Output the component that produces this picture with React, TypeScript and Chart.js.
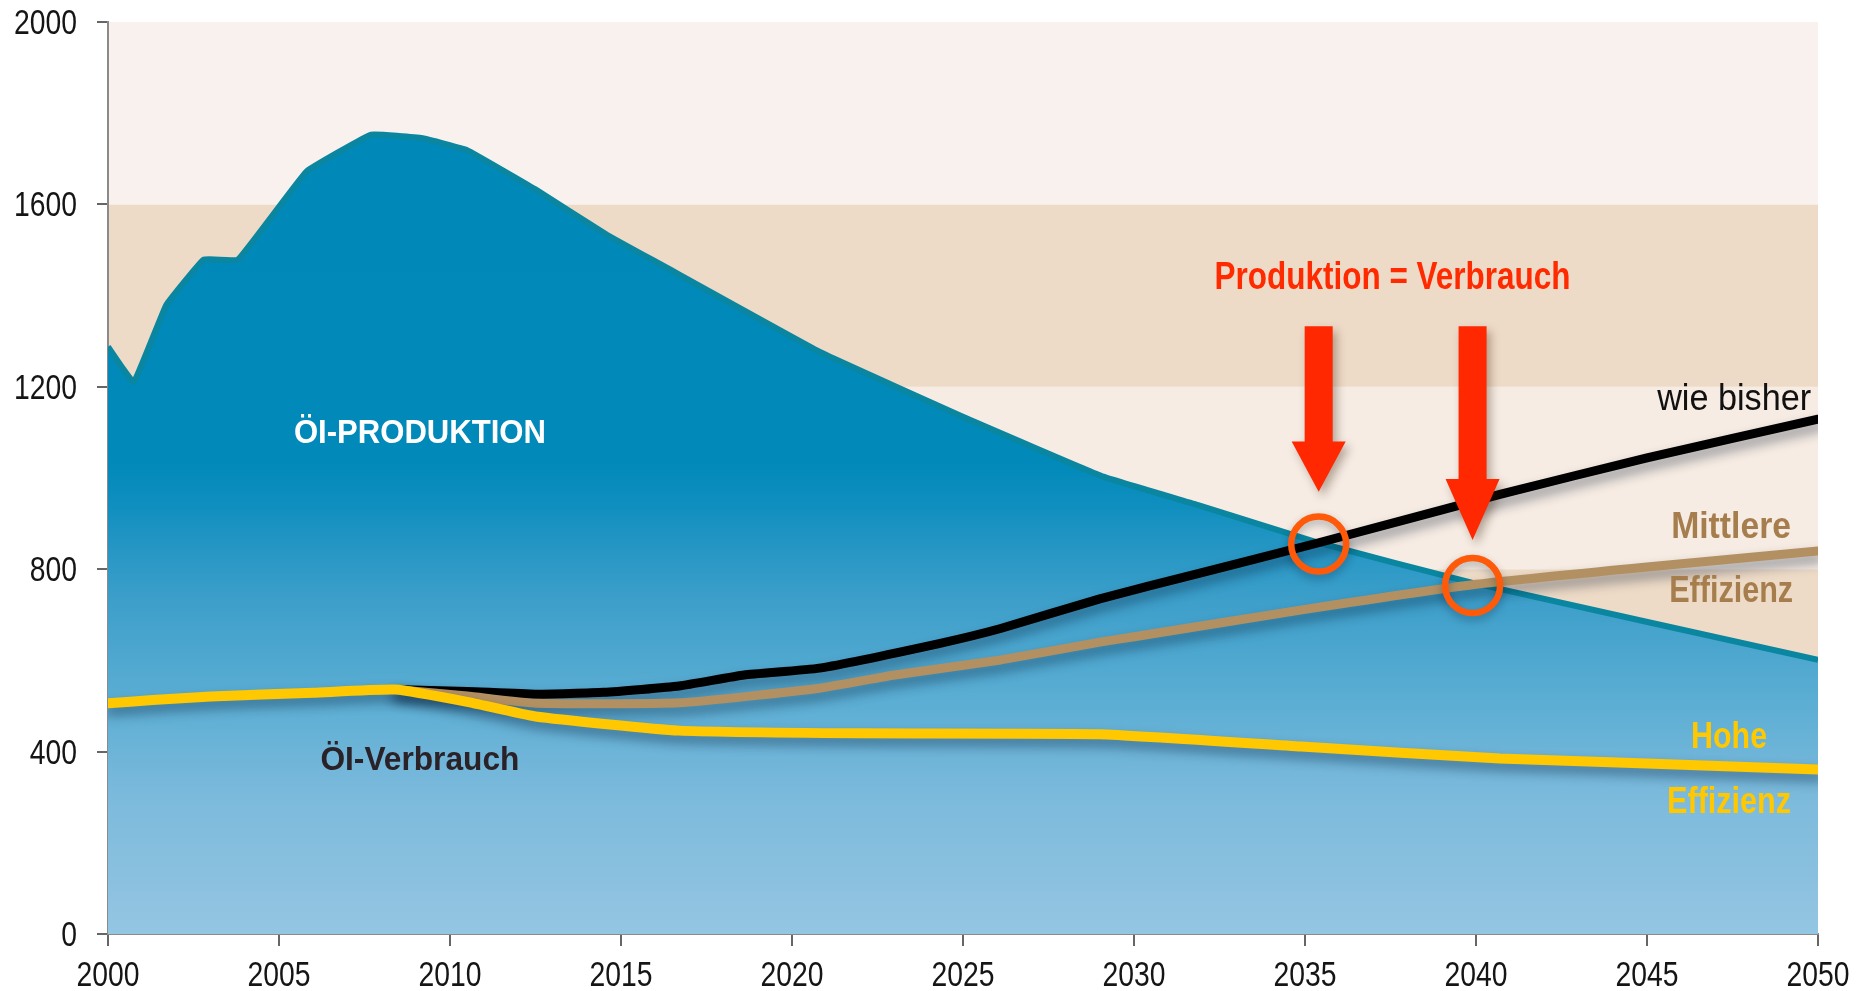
import React, { useEffect, useRef } from "react";
import { Chart, registerables } from "chart.js";

Chart.register(...registerables);

const FONT = "'Liberation Sans', Arimo, Arial, sans-serif";

// Öl-Produktion
const productionYears = [2000, 2000.75, 2001.7, 2002.8, 2003.8, 2005.8, 2007.7, 2009.2, 2010.5, 2012.5, 2014.6, 2016.1, 2020.8, 2025.1, 2029.1, 2031.9, 2035.4, 2039.9, 2050];
const productionValues = [1288, 1211, 1379, 1479, 1479, 1672, 1753, 1745, 1719, 1633, 1533, 1471, 1277, 1131, 1003, 940, 858, 770, 601];

// Verbrauch "wie bisher"
const bisherYears = [2008.4, 2010.5, 2012.5, 2014.5, 2016.7, 2018.6, 2020.8, 2024.3, 2026.1, 2029, 2031.9, 2035.4, 2040.7, 2045, 2050];
const bisherValues = [536, 532, 526, 530, 544, 568, 583, 637, 670, 735, 791, 858, 964, 1044, 1129];

// Verbrauch "Mittlere Effizienz"
const mittlereYears = [2008.4, 2010.5, 2012.5, 2016.7, 2020.8, 2023, 2026.1, 2029, 2030, 2035, 2040, 2045, 2050];
const mittlereValues = [536, 522, 506, 507, 539, 568, 601, 640, 652, 712, 767, 805, 840];

// Verbrauch "Hohe Effizienz"
const hoheYears = [2000, 2001.3, 2003, 2006, 2008.4, 2010.5, 2012.5, 2016.7, 2022, 2029, 2034.9, 2040.7, 2045, 2050];
const hoheValues = [506, 513, 521, 529, 536, 509, 477, 446, 440, 438, 411, 385, 374, 361];

// Axes
const xMin = 2000;
const xMax = 2050;
const xStep = 5;
const yMin = 0;
const yMax = 2000;
const yStep = 400;

// Background bands [from, to]
const bandRanges = [[400, 800], [800, 1200], [1200, 1600], [1600, 2000]];
const bandColors = ["#eedbc7", "#f6ece3", "#eedbc7", "#f9f1ed"];

// Crossing points (Produktion = Verbrauch)
const crossingYears = [2035.4, 2039.9];
const crossingValues = [855, 764];

const toPoints = (xs: number[], ys: number[]) => xs.map((x, i) => ({ x, y: ys[i] }));

// draws text horizontally condensed; if width given, fits the text to that width
function drawText(
  ctx: CanvasRenderingContext2D,
  s: string,
  x: number,
  baseline: number,
  font: string,
  color: string,
  align: "left" | "center" | "right",
  width: number | null,
  squeeze = 0.8
) {
  ctx.save();
  ctx.font = font;
  ctx.fillStyle = color;
  ctx.textAlign = "left";
  ctx.textBaseline = "alphabetic";
  const m = ctx.measureText(s).width;
  const sx = width ? width / m : squeeze;
  const w = m * sx;
  const left = align === "center" ? x - w / 2 : align === "right" ? x - w : x;
  ctx.translate(left, baseline);
  ctx.scale(sx, 1);
  ctx.fillText(s, 0, 0);
  ctx.restore();
}

const bandsPlugin = {
  id: "bands",
  beforeDraw(chart: any) {
    const { ctx, chartArea, scales } = chart;
    const y = scales.y;
    ctx.save();
    bandRanges.forEach((r, i) => {
      const top = y.getPixelForValue(r[1]);
      const bot = y.getPixelForValue(r[0]);
      ctx.fillStyle = bandColors[i];
      ctx.fillRect(chartArea.left, top, chartArea.right - chartArea.left, bot - top);
    });
    ctx.restore();
  },
};

const shadowPlugin = {
  id: "lineShadows",
  beforeDatasetDraw(chart: any, args: any) {
    const ds: any = chart.data.datasets[args.index];
    if (ds.shadow) {
      const ctx = chart.ctx;
      ctx.save();
      ctx.shadowColor = "rgba(0, 20, 45, 0.42)";
      ctx.shadowBlur = 12;
      ctx.shadowOffsetX = 2;
      ctx.shadowOffsetY = 7;
    }
  },
  afterDatasetDraw(chart: any, args: any) {
    const ds: any = chart.data.datasets[args.index];
    if (ds.shadow) chart.ctx.restore();
  },
};

const tickLabelsPlugin = {
  id: "tickLabels",
  afterDraw(chart: any) {
    const { ctx, chartArea, scales } = chart;
    scales.y.ticks.forEach((t: any) => {
      const y = scales.y.getPixelForValue(t.value);
      drawText(ctx, String(t.value), chartArea.left - 31, y + 12, `35px ${FONT}`, "#151515", "right", null, 0.81);
    });
    scales.x.ticks.forEach((t: any) => {
      const x = scales.x.getPixelForValue(t.value);
      drawText(ctx, String(t.value), x, chartArea.bottom + 52, `35px ${FONT}`, "#151515", "center", null, 0.81);
    });
  },
};

const annotationsPlugin = {
  id: "annotations",
  afterDatasetsDraw(chart: any) {
    const { ctx, scales } = chart;
    const px = (v: number) => scales.x.getPixelForValue(v);
    const py = (v: number) => scales.y.getPixelForValue(v);

    drawText(ctx, "ÖI-PRODUKTION", px(2009.12), py(1077), `bold 34px ${FONT}`, "#ffffff", "center", 252);
    drawText(ctx, "ÖI-Verbrauch", px(2009.12), py(360), `bold 33px ${FONT}`, "#2b2228", "center", 199);
    drawText(ctx, "wie bisher", px(2049.8), py(1149), `37px ${FONT}`, "#111111", "right", 154);
    drawText(ctx, "Mittlere", px(2047.46), py(868), `bold 36px ${FONT}`, "#a67e4e", "center", 120);
    drawText(ctx, "Effizienz", px(2047.46), py(729), `bold 36px ${FONT}`, "#a67e4e", "center", 124);
    drawText(ctx, "Hohe", px(2047.4), py(407), `bold 36px ${FONT}`, "#ffc800", "center", 76);
    drawText(ctx, "Effizienz", px(2047.4), py(265), `bold 36px ${FONT}`, "#ffc800", "center", 124);
    drawText(ctx, "Produktion = Verbrauch", px(2037.56), py(1414), `bold 38px ${FONT}`, "#ff2a00", "center", 356);

    // arrows
    const arrow = (year: number, topV: number, baseV: number, tipV: number) => {
      const cx = px(year);
      const top = py(topV);
      const base = py(baseV);
      const tip = py(tipV);
      ctx.save();
      ctx.shadowColor = "rgba(60, 30, 10, 0.35)";
      ctx.shadowBlur = 10;
      ctx.shadowOffsetX = 4;
      ctx.shadowOffsetY = 5;
      ctx.fillStyle = "#ff2800";
      ctx.beginPath();
      ctx.moveTo(cx - 14, top);
      ctx.lineTo(cx + 14, top);
      ctx.lineTo(cx + 14, base);
      ctx.lineTo(cx + 27, base);
      ctx.lineTo(cx, tip);
      ctx.lineTo(cx - 27, base);
      ctx.lineTo(cx - 14, base);
      ctx.closePath();
      ctx.fill();
      ctx.restore();
    };
    arrow(crossingYears[0], 1333, 1080, 970);
    arrow(crossingYears[1], 1333, 998, 864);

    // circles
    crossingYears.forEach((yr, i) => {
      ctx.save();
      ctx.shadowColor = "rgba(0, 20, 45, 0.3)";
      ctx.shadowBlur = 8;
      ctx.shadowOffsetY = 4;
      ctx.strokeStyle = "#ff5a0a";
      ctx.lineWidth = 6.5;
      ctx.beginPath();
      ctx.arc(px(yr), py(crossingValues[i]), 27.5, 0, Math.PI * 2);
      ctx.stroke();
      ctx.restore();
    });
  },
};

export default function App() {
  const canvasRef = useRef<HTMLCanvasElement | null>(null);

  useEffect(() => {
    if (!canvasRef.current) return;
    const chart = new Chart(canvasRef.current, {
      type: "line",
      data: {
        datasets: [
          {
            label: "Hohe Effizienz",
            data: toPoints(hoheYears, hoheValues),
            borderColor: "#ffc800",
            borderWidth: 10,
            tension: 0.15,
            borderCapStyle: "round",
            borderJoinStyle: "round",
            pointRadius: 0,
            fill: false,
            order: 1,
            shadow: true,
          } as any,
          {
            label: "Mittlere Effizienz",
            data: toPoints(mittlereYears, mittlereValues),
            borderColor: "#b39062",
            borderWidth: 9,
            tension: 0.15,
            borderCapStyle: "round",
            borderJoinStyle: "round",
            pointRadius: 0,
            fill: false,
            order: 2,
            shadow: true,
          } as any,
          {
            label: "wie bisher",
            data: toPoints(bisherYears, bisherValues),
            borderColor: "#000000",
            borderWidth: 9,
            tension: 0.15,
            borderCapStyle: "round",
            borderJoinStyle: "round",
            pointRadius: 0,
            fill: false,
            order: 3,
            shadow: true,
          } as any,
          {
            label: "Öl-Produktion",
            data: toPoints(productionYears, productionValues),
            borderColor: "#0a86a0",
            borderWidth: 6,
            tension: 0.08,
            pointRadius: 0,
            fill: "origin",
            order: 4,
            backgroundColor: (c: any) => {
              const { chart } = c;
              const area = chart.chartArea;
              if (!area) return "#0088b8";
              const g = chart.ctx.createLinearGradient(0, area.top, 0, area.bottom);
              g.addColorStop(0, "#0088b8");
              g.addColorStop(0.48, "#0089b9");
              g.addColorStop(0.53, "#0f8fbf");
              g.addColorStop(0.575, "#2596c4");
              g.addColorStop(0.635, "#3d9fca");
              g.addColorStop(0.74, "#5aadd3");
              g.addColorStop(0.85, "#7cbadc");
              g.addColorStop(0.96, "#8ec2e0");
              g.addColorStop(1, "#92c6e2");
              return g;
            },
          } as any,
        ],
      },
      options: {
        animation: false,
        responsive: true,
        maintainAspectRatio: false,
        layout: { padding: { left: 0, right: 46, top: 22, bottom: 0 } },
        plugins: {
          legend: { display: false },
          tooltip: { enabled: false },
        },
        scales: {
          x: {
            type: "linear",
            min: xMin,
            max: xMax,
            ticks: { stepSize: xStep, autoSkip: false, maxRotation: 0, display: false },
            grid: { drawOnChartArea: false, drawTicks: true, tickLength: 12, color: "#666666", lineWidth: 2 },
            border: { color: "#8a8a8a", width: 2 },
            afterFit: (s: any) => {
              s.height = 57;
            },
          },
          y: {
            type: "linear",
            min: yMin,
            max: yMax,
            ticks: { stepSize: yStep, display: false },
            grid: { drawOnChartArea: false, drawTicks: true, tickLength: 11, color: "#666666", lineWidth: 2 },
            border: { color: "#8a8a8a", width: 2 },
            afterFit: (s: any) => {
              s.width = 108;
            },
          },
        },
      },
      plugins: [bandsPlugin, shadowPlugin, annotationsPlugin, tickLabelsPlugin],
    });
    return () => chart.destroy();
  }, []);

  return (
    <div style={{ position: "fixed", left: 0, top: 0, width: 1864, height: 991, background: "#ffffff" }}>
      <canvas ref={canvasRef} />
    </div>
  );
}
